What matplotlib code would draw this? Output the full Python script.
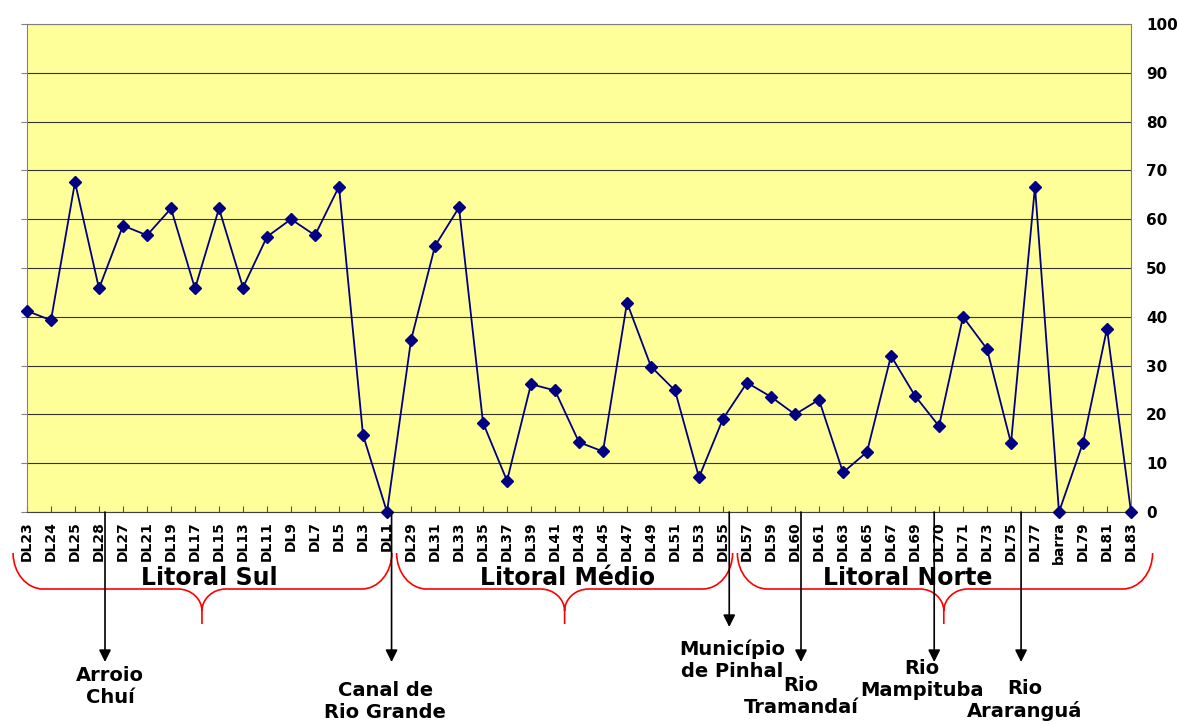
import matplotlib
matplotlib.use("Agg")
import matplotlib.pyplot as plt
from matplotlib.path import Path
from matplotlib.patches import PathPatch
from matplotlib.transforms import blended_transform_factory

W, H = 1177, 725

# sampling points along the coast, south to north
stations = ['DL23', 'DL24', 'DL25', 'DL28', 'DL27', 'DL21', 'DL19', 'DL17', 'DL15',
            'DL13', 'DL11', 'DL9', 'DL7', 'DL5', 'DL3', 'DL1',
            'DL29', 'DL31', 'DL33', 'DL35', 'DL37', 'DL39', 'DL41', 'DL43', 'DL45',
            'DL47', 'DL49', 'DL51', 'DL53', 'DL55',
            'DL57', 'DL59', 'DL60', 'DL61', 'DL63', 'DL65', 'DL67', 'DL69', 'DL70',
            'DL71', 'DL73', 'DL75', 'DL77', 'barra', 'DL79', 'DL81', 'DL83']
values = [41.2, 39.3, 67.6, 45.8, 58.7, 56.7, 62.2, 45.8, 62.2,
          46.0, 56.4, 60.0, 56.7, 66.7, 15.8, 0.0,
          35.2, 54.5, 62.4, 18.3, 6.4, 26.2, 24.9, 14.3, 12.4,
          42.9, 29.8, 24.9, 7.1, 19.1,
          26.5, 23.6, 20.0, 23.0, 8.1, 12.3, 32.0, 23.8, 17.6,
          40.0, 33.4, 14.1, 66.7, 0.0, 14.2, 37.6, 0.0]

regions = ['Litoral Sul', 'Litoral Médio', 'Litoral Norte']
landmarks = ['Arroio\nChuí', 'Canal de\nRio Grande', 'Município\nde Pinhal',
             'Rio\nTramandaí', 'Rio\nMampituba', 'Rio\nAraranguá']

# layout of the annotations below the axis (x in category units, y in pixels)
brace_spans = [(-0.58, 7.29, 15.2), (15.4, 22.4, 29.4), (29.6, 38.2, 46.9)]
region_x = [7.58, 22.54, 36.7]
arrow_x = [3.25, 15.19, 29.26, 32.25, 37.8, 41.42]
arrow_tip = [662, 662, 627, 662, 662, 662]
label_x = [3.46, 14.92, 29.38, 32.25, 37.29, 41.58]
label_y = [686.5, 702, 660, 696.5, 680, 700]


def fy(py):
    return 1 - py / H


fig = plt.figure(figsize=(W / 100, H / 100), dpi=100)
ax = fig.add_axes([27 / W, fy(512), (1131 - 27) / W, (512 - 24) / H])
ax.set_facecolor('#FFFF99')

x = list(range(len(stations)))
ax.plot(x, values, color='#000080', lw=1.3, marker='D', ms=6,
        mfc='#000080', mec='#000080', clip_on=False, zorder=3)

ax.set_xlim(0, len(stations) - 1)
ax.set_ylim(0, 100)
ax.set_xticks(x)
ax.set_xticklabels(stations, rotation=90, fontsize=10, fontweight='bold')
ax.set_yticks(range(0, 101, 10))
ax.set_yticklabels([str(v) for v in range(0, 101, 10)], fontsize=11, fontweight='bold')
ax.tick_params(axis='x', direction='in', length=4, pad=6.5, color='#555555')
ax.tick_params(axis='y', left=True, right=False, labelleft=False, labelright=True,
               direction='out', length=4.3, pad=6.5, color='#808080')
ax.yaxis.grid(True, color='#333333', lw=0.8)
ax.set_axisbelow(True)
for side in ['left', 'right', 'top']:
    ax.spines[side].set_color('#808080')
ax.spines['bottom'].set_color('#404040')

blend = blended_transform_factory(ax.transData, fig.transFigure)

# red curly braces grouping the coast sectors
y_top, y_mid, y_knee, y_bot = fy(553), fy(589), fy(611), fy(624)
r, c, k = 1.25, 1.0, 0.55
for x0, xm, x1 in brace_spans:
    verts = [(x0, y_top), (x0, y_top + k * (y_mid - y_top)), (x0 + r * (1 - k), y_mid), (x0 + r, y_mid),
             (xm - c, y_mid),
             (xm - c * (1 - k), y_mid), (xm, y_knee + k * (y_mid - y_knee)), (xm, y_knee),
             (xm, y_bot),
             (xm, y_knee),
             (xm, y_knee + k * (y_mid - y_knee)), (xm + c * (1 - k), y_mid), (xm + c, y_mid),
             (x1 - r, y_mid),
             (x1 - r * (1 - k), y_mid), (x1, y_top + k * (y_mid - y_top)), (x1, y_top)]
    codes = ([Path.MOVETO] + [Path.CURVE4] * 3 + [Path.LINETO] + [Path.CURVE4] * 3
             + [Path.LINETO, Path.MOVETO] + [Path.CURVE4] * 3 + [Path.LINETO] + [Path.CURVE4] * 3)
    ax.add_patch(PathPatch(Path(verts, codes), transform=blend, fill=False,
                           edgecolor='red', lw=1.2, clip_on=False))

for name, xr in zip(regions, region_x):
    ax.text(xr, fy(578), name, transform=blend, ha='center', va='center',
            fontsize=17, fontweight='bold')

# arrows pointing to the landmarks
for name, xa, tip, xt, yt in zip(landmarks, arrow_x, arrow_tip, label_x, label_y):
    ax.annotate('', xy=(xa, fy(tip)), xycoords=blend,
                xytext=(xa, fy(512)), textcoords=blend,
                arrowprops=dict(arrowstyle='-|>', color='black', lw=1.2,
                                mutation_scale=18, shrinkA=0, shrinkB=0),
                annotation_clip=False)
    ax.text(xt, fy(yt), name, transform=blend, ha='center', va='center',
            fontsize=14, fontweight='bold', linespacing=1.2)

fig.savefig('out.png', dpi=100)
